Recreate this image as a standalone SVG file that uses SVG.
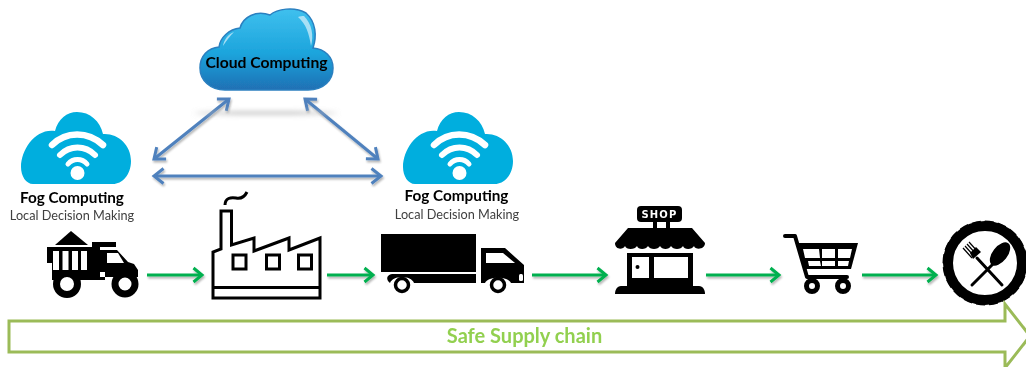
<svg xmlns="http://www.w3.org/2000/svg" width="1026" height="367" viewBox="0 0 1026 367">
<style>
text{font-family:"Lato","Open Sans","Liberation Sans",sans-serif}
.h{font-weight:700;font-size:15.3px;fill:#000;text-anchor:middle}
.s{font-size:12.700px;fill:#404040;text-anchor:middle}
.blue{fill:none;stroke:#4f81bd;stroke-width:3;marker-start:url(#ab);marker-end:url(#ab)}
.green{fill:none;stroke:#00b050;stroke-width:3;marker-end:url(#ag)}
.k{fill:none;stroke:#000;stroke-width:3}
.w{fill:none;stroke:#fff;stroke-linecap:round}
</style>
<defs>
<linearGradient id="cg" x1="0" y1="0" x2="0" y2="1"><stop offset="0" stop-color="#3fc0ee"/><stop offset=".55" stop-color="#1ca4dc"/><stop offset="1" stop-color="#2070b4"/></linearGradient>
<filter id="sh" filterUnits="userSpaceOnUse" x="0" y="0" width="1026" height="367"><feGaussianBlur in="SourceAlpha" stdDeviation="1.3"/><feOffset dx="1" dy="2"/><feComponentTransfer><feFuncA type="linear" slope=".3"/></feComponentTransfer><feMerge><feMergeNode/><feMergeNode in="SourceGraphic"/></feMerge></filter>
<filter id="b2" x="-20%" y="-400%" width="140%" height="900%"><feGaussianBlur stdDeviation="2.500"/></filter>
<filter id="soft" filterUnits="userSpaceOnUse" x="0" y="0" width="1026" height="367"><feGaussianBlur stdDeviation=".4"/></filter>
<marker id="ab" markerUnits="userSpaceOnUse" markerWidth="16" markerHeight="20" refX="13" refY="10" orient="auto-start-reverse"><path d="M3.500 2.500 L13 10 L3.500 17.500" fill="none" stroke="#4f81bd" stroke-width="3"/></marker>
<marker id="ag" markerUnits="userSpaceOnUse" markerWidth="16" markerHeight="20" refX="13" refY="10" orient="auto"><path d="M4.500 3 L13 10 L4.500 17" fill="none" stroke="#00b050" stroke-width="3"/></marker>
<g id="fog">
<path d="M33 184 C26 184 21 176 21 167 C21 149 36 128 55 131 C58 119 67 112 77 112 C90 112 100 121 103 134 C118 133 131 145 131 161 C131 175 122 184 113 184 Z" fill="#00aede"/>
<path class="w" stroke-width="6.500" d="M52 145 C66 131 88 131 103 145"/>
<path class="w" stroke-width="6" d="M60 155 C70 145 85 145 95 155"/>
<path class="w" stroke-width="5" d="M68 164 C73 158 82 158 87 164"/>
<circle cx="77.500" cy="173" r="7" fill="#fff"/>
</g>
</defs>
<g filter="url(#soft)">
<g id="connectors">
<g filter="url(#sh)">
<path class="blue" d="M229 99 L154 159"/>
<path class="blue" d="M305 99 L378 159"/>
<path class="blue" d="M154 176 L381 176"/>
</g>
<g filter="url(#sh)">
<path class="green" d="M147 275 H202"/>
<path class="green" d="M327 275 H373"/>
<path class="green" d="M532 275 H606"/>
<path class="green" d="M706 275 H779"/>
<path class="green" d="M862 275 H936"/>
</g>
</g>
<g id="cloud-computing">
<ellipse cx="266" cy="113" rx="72" ry="1.500" fill="#bbb" filter="url(#b2)"/>
<path d="M225 90 C210 90 200 80 200 68 C200 56 208 48 219 47 C220 38 229 29 240 28 C243 17 256 10 270 15 C277 9 294 6 306 13 C316 22 317 36 313 48 C325 49 333 57 333 68 C333 80 324 90 308 90 Z" fill="url(#cg)" stroke="#2b80c0" stroke-width="1.500"/>
<path d="M304 16 C312 24 314 36 311 46 C309 33 306 24 298 17 C300 16 302 16 304 16 Z M223 46 C224 40 228 34 234 32 C230 36 227 40 223 46 Z" fill="#cfeefa" opacity=".75"/>
<text class="h" x="266.500" y="68" style="font-size:15.700px">Cloud Computing</text>
</g>
<g id="fog-left">
<use href="#fog"/>
<text class="h" x="72" y="203">Fog Computing</text>
<text class="s" x="72" y="220">Local Decision Making</text>
</g>
<g id="fog-right">
<use href="#fog" x="382"/>
<text class="h" x="456.500" y="201">Fog Computing</text>
<text class="s" x="457" y="219">Local Decision Making</text>
</g>
<g id="dump-truck">
<path d="M71 231 L88 245 H55 Z"/>
<path d="M47 247 H92 V242 H116 V247 H100 V273 H52 V263 H47 Z"/>
<path d="M53 251 H59 V270 H53 Z M62.500 251 H68.500 V270 H62.500 Z M72 251 H78 V270 H72 Z M81 251 H87 V270 H81 Z" fill="#fff"/>
<path d="M100 250 H117 L128 262 L134 264 L138 270 V277 H100 Z M105 272 H52 V280 H105 Z"/>
<path d="M107 253 H118 L124 263 H107 Z" fill="#fff"/>
<circle cx="67" cy="284" r="10.500" fill="#fff" stroke="#000" stroke-width="7"/>
<circle cx="125" cy="284" r="10" fill="#fff" stroke="#000" stroke-width="7"/>
</g>
<g id="factory">
<path class="k" d="M213 298 V252 L221 249 V211 H231.500 V245 L254 238 V251 L289 238 V250 L320 238 V298 Z M213 287.500 H320"/>
<rect class="k" x="233" y="255" width="13" height="14"/>
<rect class="k" x="266.500" y="255" width="13" height="14"/>
<rect class="k" x="298.500" y="255" width="13" height="14"/>
<path class="k" d="M225 205 C225 198 231 197 236 198 C241 199 245 196 247 192"/>
</g>
<g id="lorry">
<rect x="381" y="234" width="95" height="38"/>
<path d="M392 274 H476 V283 H414 C411 275 393 275 390 283 C386 280 386 275 392 274 Z"/>
<path d="M481 248 H505 L524 265 V283 H511 C508 276 488 276 485 283 H481 Z"/>
<path d="M486 253 H503 L515 263 H486 Z" fill="#fff"/>
<rect x="519" y="274" width="4" height="7" rx="1.500" fill="#fff"/>
<circle cx="402" cy="285" r="6.500" fill="#fff" stroke="#000" stroke-width="3.500"/>
<circle cx="498" cy="285" r="6.500" fill="#fff" stroke="#000" stroke-width="3.500"/>
</g>
<g id="shop">
<rect x="637" y="206" width="45" height="16" rx="4"/>
<text x="659.500" y="218" font-size="10" font-weight="700" fill="#fff" text-anchor="middle" letter-spacing="1.200" style="font-family:'DejaVu Sans',sans-serif">SHOP</text>
<path d="M653 222 h4 v6 h-4 Z M666 222 h4 v6 h-4 Z"/>
<path d="M628 228 H692 L705 243 C705 250 695 250 694 246 C692 250 684 250 683 246 C681 250 673 250 671 246 C669 250 662 250 660 246 C658 250 650 250 648 246 C646 250 638 250 637 246 C635 250 626 250 625 246 C623 250 615 250 615 243 Z"/>
<path d="M627 253 H693 V287 H627 Z"/>
<path d="M632 257 H649 V278 H632 Z M654 257 H688 V278 H654 Z" fill="#fff"/>
<circle cx="637.500" cy="267" r="2"/>
<path d="M621 286 H699 C703 286 705 290 705 294 H615 C615 290 617 286 621 286 Z"/>
</g>
<g id="cart">
<path class="k" stroke-linecap="round" stroke-linejoin="round" style="stroke-width:4" d="M785 236 H795 L807 277 H847"/>
<path d="M798 243 H858 L851 269 H804 Z"/>
<path d="M803 249 H819 L820 258 H805 Z M822 249 H835 V258 H822 Z M838 249 H852 L850 258 H838 Z M808 261 H820 L821 266 H809 Z M822 261 H835 V266 H822 Z M838 261 H849 L848 266 H838 Z" fill="#fff"/>
<circle cx="812" cy="286" r="5.500" fill="#fff" stroke="#000" stroke-width="5"/>
<circle cx="843" cy="286" r="5.500" fill="#fff" stroke="#000" stroke-width="5"/>
</g>
<g id="plate">
<circle cx="985" cy="263" r="37" fill="#fff" stroke="#000" stroke-width="10"/>
<circle cx="985" cy="263" r="41.500" fill="none" stroke="#000" stroke-width="2" stroke-dasharray="9 4"/>
<path stroke="#000" stroke-width="3" stroke-linecap="round" fill="none" d="M972 285 L995 262 M1002 285 L977 258"/>
<ellipse cx="1000" cy="254" rx="7.500" ry="13.500" transform="rotate(38 1000 254)"/>
<path fill="#000" d="M973 259 L981 252 L976 247 L970 253 Z"/>
<path stroke="#000" stroke-width="1.200" fill="none" d="M963 248 L972 258 M965 246 L974 256 M967 244 L976 254 M969 242 L978 252"/>
</g>
<g id="supply-chain">
<path d="M9 321 H1005 V304 L1030 336 L1005 368 V352 H9 Z" fill="#fff" stroke="#9bbb59" stroke-width="3"/>
<text x="524.500" y="343" font-size="20" font-weight="700" fill="#92d050" text-anchor="middle">Safe Supply chain</text>
</g>
</g>
</svg>
